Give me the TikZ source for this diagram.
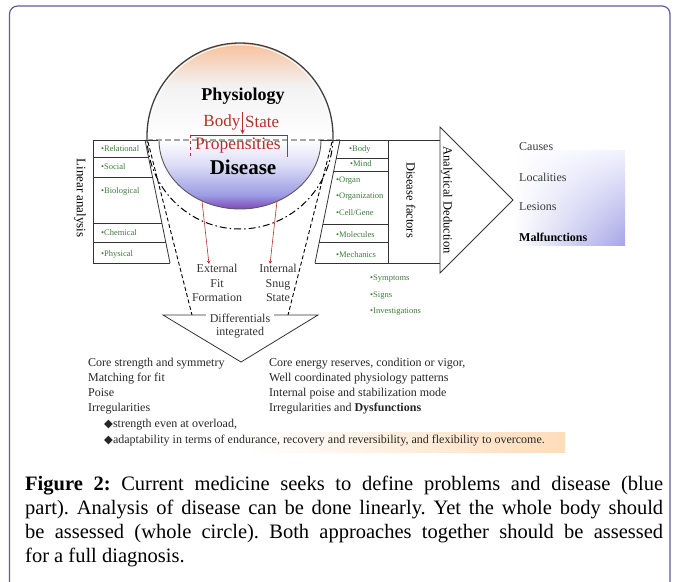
\documentclass[tikz,border=0pt]{standalone}
\usepackage{fontspec}
\setmainfont{Liberation Serif}
\newfontfamily\diamondfont{DejaVu Sans}
\usetikzlibrary{positioning, arrows.meta, shadings}
\definecolor{FrameBlue}{HTML}{5F5B9F}
\definecolor{FactorGreen}{HTML}{3E7B3A}
\definecolor{PropRed}{HTML}{B5302A}
\definecolor{PeachTop}{HTML}{F9BC94}
\definecolor{DiseaseLight}{HTML}{DCDCF6}
\definecolor{DiseaseBlue}{HTML}{9C9CE4}
\definecolor{DiseasePurple}{HTML}{7A3CB0}
\definecolor{CauseGray}{HTML}{3A3A3A}
\newcommand{\dmd}{{\diamondfont\fontsize{11.5}{16}\selectfont ◆}}

\begin{document}
\begin{tikzpicture}[
        x=1pt, y=-1pt,
        boxline/.style={line width=0.8pt, color=black!80},
        guide/.style={line width=0.9pt, dash pattern=on 4pt off 2.5pt},
        redarrow/.style={line width=0.6pt, ->, >=stealth, color=PropRed},
        factor/.style={anchor=west, inner sep=0pt, font=\fontsize{8.5}{10}\selectfont, text=FactorGreen},
        sidetitle/.style={rotate=-90, inner sep=0pt, font=\fontsize{12.5}{14}\selectfont},
        notetext/.style={align=center, inner sep=0pt, text=black!80, font=\fontsize{12}{14.5}\selectfont},
        cause/.style={anchor=west, inner sep=0pt, text=CauseGray, font=\fontsize{12}{14}\selectfont},
        listtext/.style={anchor=north west, align=left, inner sep=0pt, text=black!85, font=\fontsize{12}{15}\selectfont}
    ]
    \useasboundingbox (0,0) rectangle (679,581);
    \clip (0,0) rectangle (679,581);

    % Frame
    \draw[FrameBlue, line width=1.2pt, rounded corners=8pt] (9.5,6) rectangle (670,600);

    % Whole circle: physiology half
    \begin{scope}
        \clip (0,0) rectangle (679,140);
        \begin{scope}
            \clip (240,136) circle[radius=93];
            \shade[top color=PeachTop, bottom color=gray!10] (140,40) rectangle (340,86);
            \shade[top color=gray!10, bottom color=white] (140,86) rectangle (340,141);
        \end{scope}
        \draw[white, line width=0.9pt] (240,136) circle[radius=91.2];
        \draw[black!75, line width=1.3pt] (240,136) circle[radius=93];
    \end{scope}
    \begin{scope}
        \clip (0,140) rectangle (679,581);
        \draw[line width=1pt, dash pattern=on 7pt off 3pt on 1.5pt off 3pt] (240,136) circle[radius=93];
    \end{scope}

    % Disease bowl
    \begin{scope}
        \clip (159,140) arc[start angle=180, end angle=0, x radius=81, y radius=69] -- cycle;
        \shade[top color=white, bottom color=DiseaseLight] (150,139) rectangle (330,165);
        \shade[top color=DiseaseLight, bottom color=DiseaseBlue] (150,165) rectangle (330,195);
        \shade[top color=DiseaseBlue, bottom color=DiseasePurple] (150,195) rectangle (330,211);
    \end{scope}
    \draw[black!65, line width=0.9pt] (159,140) arc[start angle=180, end angle=0, x radius=81, y radius=69];
    \draw[gray!70, line width=1.2pt, dash pattern=on 6pt off 3pt] (147,140) -- (340,140);

    % Linear analysis box
    \draw[boxline] (158,140) -- (93,140) -- (93,263) -- (170,263);
    \draw[boxline] (145,140) -- (170,263);
    \foreach \y in {157,177,223,242}
        \draw[boxline] (93,\y) -- ({145+(\y-140)*25/123},\y);

    % Disease factors box
    \draw[boxline] (320,140) -- (440,140);
    \draw[boxline] (315,263) -- (440,263);
    \draw[boxline] (340,140) -- (315,263);
    \draw[boxline] (388,140) -- (388,263);
    \foreach \y in {158,171,224,242}
        \draw[boxline] ({340-(\y-140)*25/123},\y) -- (388,\y);

    % Analytical deduction arrow
    \shade[upper left=white, upper right=blue!5, lower left=white, lower right=DiseaseBlue!90] (513,150) rectangle (625,245);
    \draw[boxline] (440,127) -- (513,200) -- (440,273) -- cycle;

    % Guides to the differentials
    \draw[guide] (148,142) -- (192,315);
    \draw[guide] (332,142) -- (288,315);
    \draw[boxline] (163,315) -- (318,315) -- (241,362) -- cycle;

    % Circle texts
    \node (physiology) [font=\bfseries\fontsize{18}{20}\selectfont] at (243,96) {Physiology};
    \node (body) [anchor=east, inner sep=0pt, text=PropRed, font=\fontsize{17}{19}\selectfont] at (240.5,122) {Body};
    \node (state) [anchor=west, inner sep=0pt, text=PropRed, font=\fontsize{17}{19}\selectfont] at (245,122) {State};
    \coordinate (bsTop) at (242.5,112);
    \coordinate (bsBot) at (242.5,134);
    \draw[redarrow, line width=1pt] (bsTop) -- (bsBot);
    \draw[black!70, line width=0.8pt] (190,135) -- (287,135);
    \draw[PropRed, line width=0.8pt] (287,135) -- (287,157);
    \draw[PropRed, line width=0.8pt, dashed] (190,135) -- (190,157);
    \node (propensities) [inner sep=0pt, text=PropRed, font=\fontsize{17.5}{19}\selectfont] at (238,146) {Propensities};
    \node (disease) [inner sep=0pt, font=\bfseries\fontsize{21}{23}\selectfont] at (243,167) {Disease};

    % Fit and snug
    \coordinate (extStart) at (202,201);
    \coordinate (intStart) at (277,201);
    \node (external) [notetext] at (217,283) {External\\Fit\\Formation};
    \node (internal) [notetext] at (278,283) {Internal\\Snug\\State};
    \draw[redarrow] (extStart) -- ([xshift=-8pt]external.north);
    \draw[redarrow] (intStart) -- ([xshift=-8pt]internal.north);
    \node (differentials) [notetext, fill=white, inner xsep=4pt, inner ysep=1pt, font=\fontsize{12}{13.5}\selectfont] at (240,326) {Differentials\\integrated};

    % Side titles
    \node (linear) [sidetitle, font=\fontsize{13}{15}\selectfont] at (80,198) {Linear analysis};
    \node (factors) [sidetitle] at (411,200) {Disease factors};
    \node (deduction) [sidetitle] at (446.5,200) {Analytical Deduction};

    % Linear rows
    \node (relational) [factor] at (101,149) {•Relational};
    \node (social) [factor] at (101,167) {•Social};
    \node (biological) [factor] at (101,191) {•Biological};
    \node (chemical) [factor] at (101,233) {•Chemical};
    \node (physical) [factor] at (101,254) {•Physical};

    % Factor rows
    \node (fbody) [factor] at (349,149) {•Body};
    \node (mind) [factor] at (350,164) {•Mind};
    \node (organ) [factor] at (336,181) {•Organ};
    \node (organization) [factor] at (336,197) {•Organization};
    \node (cell) [factor] at (336,213) {•Cell/Gene};
    \node (molecules) [factor] at (336,235) {•Molecules};
    \node (mechanics) [factor] at (336,255) {•Mechanics};

    \node (symptoms) [factor] at (370,279) {•Symptoms};
    \node (signs) [factor, below=16.5pt of symptoms.west, anchor=west] {•Signs};
    \node (investigations) [factor, below=16.5pt of signs.west, anchor=west] {•Investigations};

    % Deduction results
    \node (causes) [cause] at (519,147) {Causes};
    \node (localities) [cause, below=30pt of causes.west, anchor=west] {Localities};
    \node (lesions) [cause, below=30pt of localities.west, anchor=west] {Lesions};
    \node (malfunctions) [cause, text=black, font=\bfseries\fontsize{12}{14}\selectfont, below=30pt of lesions.west, anchor=west] {Malfunctions};

    % Lists
    \node (coreleft) [listtext] at (88,358) {Core strength and symmetry\\Matching for fit\\Poise\\Irregularities};
    \node (coreright) [listtext] at (269,358) {Core energy reserves, condition or vigor,\\Well coordinated physiology patterns\\Internal poise and stabilization mode\\Irregularities and \textbf{Dysfunctions}};
    \shade[left color=white, right color=orange!27] (247,432) rectangle (565,452);
    \node (bullets) [listtext, font=\fontsize{12}{16}\selectfont] at (104,419) {\dmd strength even at overload,\\\dmd adaptability in terms of endurance, recovery and reversibility, and flexibility to overcome.};

    % Caption
    \node (caption) [anchor=north west, inner sep=0pt, text width=638pt, align=justify, font=\fontsize{20.5}{24}\selectfont\frenchspacing] at (25,476) {\textbf{Figure 2:} Current medicine seeks to define problems and disease (blue\linebreak part). Analysis of disease can be done linearly. Yet the whole body should\linebreak be assessed (whole circle). Both approaches together should be assessed\linebreak for a full diagnosis.};

\end{tikzpicture}
\end{document}
